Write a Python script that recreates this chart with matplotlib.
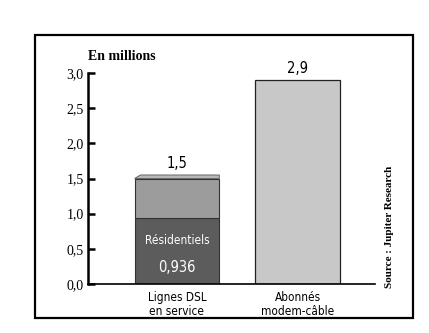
import matplotlib
matplotlib.use("Agg")
from matplotlib import pyplot as plt
from matplotlib.patches import Rectangle, Polygon

categories = ["Lignes DSL\nen service", "Abonnés\nmodem-câble"]
totals = [1.5, 2.9]
residentiels = 0.936
total_labels = ["1,5", "2,9"]
yticks = [0.0, 0.5, 1.0, 1.5, 2.0, 2.5, 3.0]
ytick_labels = ["0,0", "0,5", "1,0", "1,5", "2,0", "2,5", "3,0"]

serif = ["Liberation Serif", "DejaVu Serif"]


def narrow_text(x, y, s, size, **kw):
    # condensed sans for the bar labels
    return ax.text(x, y, s, fontsize=size, family="DejaVu Sans",
                   fontstretch="condensed", **kw)


fig = plt.figure(figsize=(4.29, 3.33), dpi=100)

# outer frame
fig.patches.append(Rectangle((35 / 429, 1 - 318 / 333), 378 / 429, 283 / 333,
                             transform=fig.transFigure, fill=False,
                             edgecolor="black", linewidth=1.6))

ax = fig.add_axes([88 / 429, 49 / 333, 287 / 429, 211 / 333])
ax.set_xlim(0, 2)
ax.set_ylim(0, 3.0)
pos = [0.62, 1.46]
w = 0.59

# DSL bar: residential part + rest
ax.bar(pos[0], residentiels, w, color="#5c5c5c", edgecolor="#333333", linewidth=0.8)
ax.bar(pos[0], totals[0] - residentiels, w, bottom=residentiels,
       color="#9c9c9c", edgecolor="#333333", linewidth=0.8)
# thin top face
dx, dy = 0.04, 0.05
x0 = pos[0] - w / 2
ax.add_patch(Polygon([(x0, totals[0]), (x0 + dx, totals[0] + dy),
                      (x0 + w, totals[0] + dy), (x0 + w, totals[0])],
                     closed=True, facecolor="#b8b8b8", edgecolor="#555555",
                     linewidth=0.6, clip_on=False))
# cable bar
ax.bar(pos[1], totals[1], w, color="#c8c8c8", edgecolor="#222222", linewidth=0.9)

for p, t, lab in zip(pos, totals, total_labels):
    off = 0.1 if p == pos[0] else 0.06
    narrow_text(p, t + off, lab, 10.5, ha="center", va="bottom")

narrow_text(pos[0], 0.62, "Résidentiels", 8.5, ha="center", va="center", color="white")
narrow_text(pos[0], 0.23, "0,936", 10.5, ha="center", va="center", color="white")

for p, c in zip(pos, categories):
    narrow_text(p, -0.1, c, 8.5, ha="center", va="top", linespacing=1.05)

ax.set_xticks([])
ax.set_yticks(yticks)
ax.set_yticklabels(ytick_labels, family=serif, fontsize=10)
ax.tick_params(axis="y", direction="in", length=5, width=1.8, pad=3)
for s in ["top", "right"]:
    ax.spines[s].set_visible(False)
ax.spines["left"].set_linewidth(1.8)
ax.spines["bottom"].set_linewidth(1.2)
ax.set_facecolor("none")

fig.text(88 / 429, 1 - 57 / 333, "En millions", ha="left", va="center",
         fontsize=10, fontweight="bold", family=serif)
fig.text(389 / 429, 1 - 227 / 333, "Source : Jupiter Research", ha="center",
         va="center", rotation=90, fontsize=8, fontweight="bold", family=serif)

fig.savefig("out.png", dpi=100)
